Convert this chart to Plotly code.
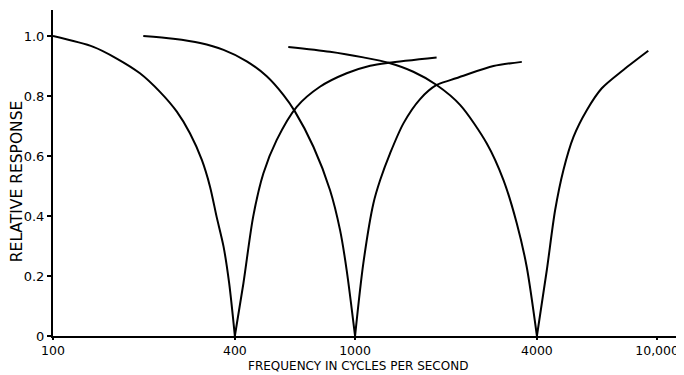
import plotly.graph_objects as go

# Readings from the reference (frequency in c/s, relative response)
f1 = [100, 136, 162, 194, 226, 257, 284, 311, 331, 348, 367, 383, 400,
      427, 460, 497, 550, 641, 765, 938, 1122, 1290, 1862]
r1 = [1.0, 0.964, 0.926, 0.876, 0.814, 0.748, 0.676, 0.587, 0.498, 0.398, 0.298, 0.176, 0.0,
      0.176, 0.398, 0.542, 0.653, 0.764, 0.831, 0.876, 0.901, 0.911, 0.929]

f2 = [199, 250, 307, 367, 438, 510, 579, 632, 728, 826, 892, 938, 1000,
      1065, 1150, 1211, 1306, 1446, 1642, 1862, 2066, 2285, 2872, 3565]
r2 = [1.0, 0.991, 0.977, 0.954, 0.916, 0.866, 0.804, 0.749, 0.631, 0.487, 0.353, 0.22, 0.0,
      0.242, 0.442, 0.52, 0.609, 0.709, 0.79, 0.837, 0.853, 0.868, 0.90, 0.914]

f3 = [601, 826, 1065, 1290, 1559, 1862, 2230, 2730, 3100, 3430, 3700, 4000,
      4314, 4596, 4894, 5286, 5850, 6560, 7730, 9350]
r3 = [0.964, 0.948, 0.929, 0.911, 0.881, 0.837, 0.77, 0.642, 0.52, 0.376, 0.231, 0.0,
      0.22, 0.42, 0.553, 0.664, 0.753, 0.826, 0.887, 0.951]

x_ticks = [100, 400, 1000, 4000, 10000]
x_labels = ["100", "400", "1000", "4000", "10,000"]
y_ticks = [0, 0.2, 0.4, 0.6, 0.8, 1.0]
y_labels = ["0", "0.2", "0.4", "0.6", "0.8", "1.0"]

FONT = "'DejaVu Sans', sans-serif"

fig = go.Figure()
for fx, ry in [(f1, r1), (f2, r2), (f3, r3)]:
    # split at the null so the spline keeps the sharp cusp
    k = ry.index(0.0)
    for xs, ys in [(fx[:k + 1], ry[:k + 1]), (fx[k:], ry[k:])]:
        fig.add_trace(go.Scatter(
            x=xs, y=ys, mode="lines",
            line=dict(color="black", width=2, shape="spline", smoothing=0.8),
            showlegend=False, hoverinfo="skip",
        ))

# page body has an 8px margin, so the figure is sized to fit the window
fig.update_layout(
    width=676, height=367,
    paper_bgcolor="white", plot_bgcolor="white",
    margin=dict(l=45, r=0, t=2, b=39),
    font=dict(family=FONT, size=13, color="black"),
    xaxis=dict(
        type="log", range=[2, 4.089],
        tickvals=x_ticks, ticktext=x_labels,
        ticks="outside", ticklen=2, tickcolor="black", tickwidth=1.5,
        showline=True, linecolor="black", linewidth=2,
        showgrid=False, zeroline=False,
        tickfont=dict(size=12.5, family=FONT),
    ),
    yaxis=dict(
        range=[0, 1.087],
        tickvals=y_ticks, ticktext=y_labels,
        ticks="outside", ticklen=4, tickcolor="black", tickwidth=1.5,
        showline=True, linecolor="black", linewidth=2,
        showgrid=False, zeroline=False,
        tickfont=dict(size=13, family=FONT),
    ),
    annotations=[
        dict(text="FREQUENCY IN CYCLES PER SECOND", xref="paper", yref="paper",
             x=0.483, y=-0.1196, yanchor="bottom", xanchor="center", showarrow=False,
             font=dict(size=12, family=FONT)),
        dict(text="RELATIVE RESPONSE", xref="paper", yref="paper",
             x=-0.057, y=0.475, xanchor="center", yanchor="middle", textangle=-90,
             showarrow=False, font=dict(size=15.5, family=FONT)),
    ],
)

fig.write_html("out.html")
